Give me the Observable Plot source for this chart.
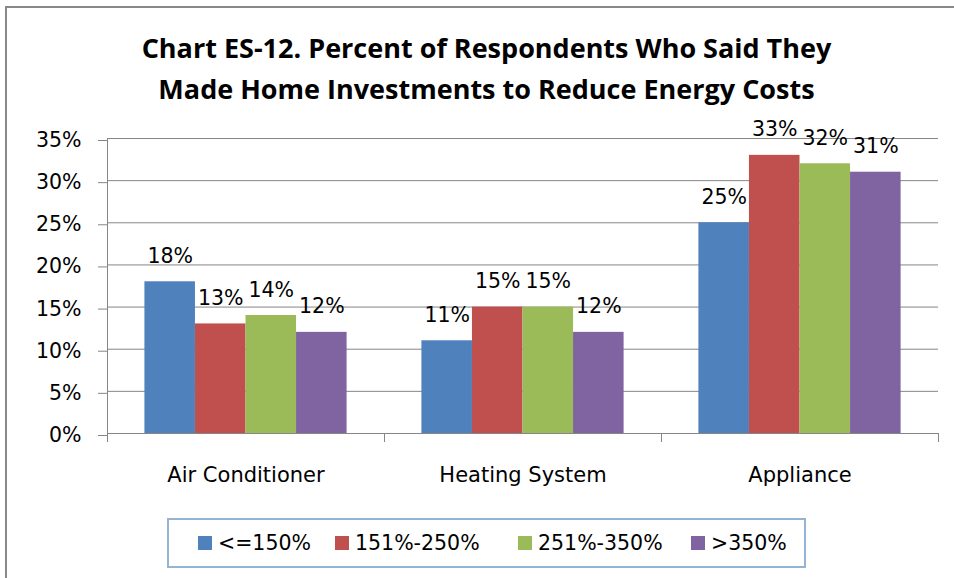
<!DOCTYPE html>
<html>
<head>
<meta charset="utf-8">
<script src="https://cdn.jsdelivr.net/npm/d3@7"></script>
<script src="https://cdn.jsdelivr.net/npm/@observablehq/plot@0.6"></script>
<style>
  body { margin: 0; background: #fff; }
  #wrap { position: relative; width: 954px; height: 578px; overflow: hidden; background: #fff; font-family: "DejaVu Sans", sans-serif; color: #000; }
  #border { position: absolute; left: 5px; top: 6px; width: 980px; height: 600px; border-left: 2px solid #888; border-top: 2px solid #888; }
  #title { position: absolute; left: 0; top: 27px; width: 973px; text-align: center; font-family: "Open Sans", sans-serif; font-weight: bold; font-size: 27px; line-height: 41px; }
  #chart { position: absolute; left: 0; top: 100px; }
  #legend { position: absolute; left: 167px; top: 518px; width: 639px; height: 50px; border: 2px solid #95b3d7; box-sizing: border-box; display: flex; align-items: center; padding-left: 29px; }
</style>
</head>
<body>
<div id="wrap">
  <div id="border"></div>
  <div id="title">Chart ES-12. Percent of Respondents Who Said They<br>Made Home Investments to Reduce Energy Costs</div>
  <div id="chart"></div>
  <div id="legend"></div>
</div>
<script>
const categories = ["Air Conditioner", "Heating System", "Appliance"];
const series = ["<=150%", "151%-250%", "251%-350%", ">350%"];
const colors = ["#4f81bd", "#c0504d", "#9bbb59", "#8064a2"];
const yTicks = [0, 5, 10, 15, 20, 25, 30, 35];
const airConditioner = [18, 13, 14, 12];
const heatingSystem = [11, 15, 15, 12];
const appliance = [25, 33, 32, 31];

const values = [airConditioner, heatingSystem, appliance];
const data = categories.flatMap((c, i) => series.map((s, j) => ({category: c, group: s, value: values[i][j]})));

const W = 954, H = 400, mt = 38, mb = 67, ml = 107, mr = 16;
const innerH = H - mt - mb;
const gray = "#868686";
const font = '"DejaVu Sans", sans-serif';

const plot = Plot.plot({
  width: W, height: H,
  marginTop: mt, marginBottom: mb, marginLeft: ml, marginRight: mr,
  style: {fontFamily: font, fontSize: "20px", background: "transparent", color: "#000", overflow: "visible"},
  fx: {domain: categories, padding: 0, round: false, label: null},
  x: {domain: series, paddingInner: 0, paddingOuter: 0.74, round: false, axis: null},
  y: {domain: [0, 35], label: null},
  color: {domain: series, range: colors},
  marks: [
    Plot.gridY(yTicks, {stroke: gray, strokeOpacity: 1}),
    Plot.frame({anchor: "left", stroke: gray, insetTop: innerH, insetBottom: -8}),
    Plot.frame({anchor: "right", stroke: gray, insetTop: innerH, insetBottom: -8}),
    Plot.frame({anchor: "left", stroke: gray, fx: [categories[0]]}),
    Plot.barY(data, {fx: "category", x: "group", y: "value", fill: "group"}),
    Plot.ruleY([0], {stroke: gray}),
    Plot.text(data, {fx: "category", x: "group", y: "value", text: d => d.value + "%", lineAnchor: "bottom", dy: -19, fill: "#000", fontSize: 20.5}),
    Plot.axisY(yTicks, {anchor: "left", tickSize: 9, tickPadding: 17, stroke: gray, fill: "#000", fontSize: 20.5, dy: 2, label: null, tickFormat: d => d + "%"}),
    Plot.axisFx({anchor: "bottom", tickSize: 0, tickPadding: 34, fontSize: 21, fill: "#000", label: null})
  ]
});
document.getElementById("chart").appendChild(plot);

const leg = plot.legend("color", {swatchSize: 14});
leg.style.fontFamily = font;
leg.style.fontSize = "20.5px";
leg.style.margin = "0";
leg.style.minHeight = "0";
document.getElementById("legend").appendChild(leg);
const itemWidths = [137, 183, 173, null];
d3.select(leg).selectAll("span")
  .style("margin-right", "0")
  .style("color", "#000")
  .style("width", (d, i) => itemWidths[i] == null ? null : itemWidths[i] + "px")
  .style("flex", "none");
d3.select(leg).selectAll("svg").style("margin-right", "6px");
</script>
</body>
</html>
